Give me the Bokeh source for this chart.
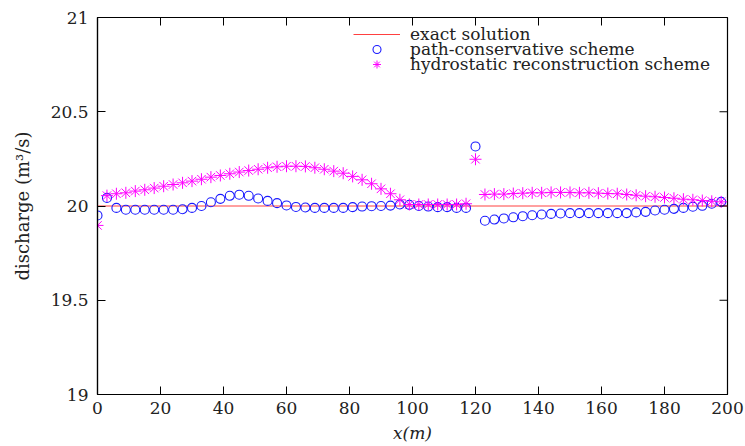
import math
from bokeh.plotting import figure
from bokeh.models import Legend, LegendItem, FixedTicker, Range1d
from bokeh.embed import file_html
from bokeh.resources import INLINE

x_pts = [0, 3, 6, 9, 12, 15, 18, 21, 24, 27, 30, 33, 36, 39, 42, 45, 48, 51, 54, 57,
         60, 63, 66, 69, 72, 75, 78, 81, 84, 87, 90, 93, 96, 99, 102, 105, 108, 111, 114, 117,
         120, 123, 126, 129, 132, 135, 138, 141, 144, 147, 150, 153, 156, 159, 162, 165, 168, 171, 174, 177,
         180, 183, 186, 189, 192, 195, 198]

path_conservative = [19.95, 20.043, 19.99, 19.98, 19.98, 19.98, 19.98, 19.98, 19.98, 19.983,
                     19.99, 20.0, 20.02, 20.038, 20.054, 20.06, 20.054, 20.04, 20.027, 20.015,
                     20.003, 19.995, 19.992, 19.99, 19.99, 19.99, 19.99, 19.994, 19.997, 19.999,
                     20.0, 20.002, 20.008, 20.006, 20.0, 19.997, 19.994, 19.994, 19.99, 19.99,
                     20.316, 19.922, 19.928, 19.934, 19.94, 19.946, 19.951, 19.955, 19.958, 19.96,
                     19.962, 19.962, 19.962, 19.962, 19.962, 19.962, 19.962, 19.966, 19.969, 19.976,
                     19.98, 19.985, 19.99, 19.996, 20.001, 20.012, 20.022]

hydrostatic = [19.897, 20.055, 20.065, 20.07, 20.079, 20.086, 20.095, 20.105, 20.114, 20.123,
               20.132, 20.142, 20.153, 20.162, 20.171, 20.18, 20.188, 20.195, 20.203, 20.208,
               20.211, 20.211, 20.21, 20.203, 20.195, 20.185, 20.174, 20.157, 20.139, 20.118,
               20.091, 20.065, 20.033, 20.008, 20.008, 20.008, 20.008, 20.008, 20.008, 20.012,
               20.248, 20.061, 20.063, 20.063, 20.066, 20.068, 20.07, 20.07, 20.072, 20.072,
               20.072, 20.07, 20.07, 20.068, 20.066, 20.065, 20.061, 20.057, 20.052, 20.049,
               20.045, 20.041, 20.036, 20.033, 20.029, 20.025, 20.022]

exact_x = [0, 200]
exact_y = [20, 20]

x_ticks = [0, 20, 40, 60, 80, 100, 120, 140, 160, 180, 200]
y_ticks = [19, 19.5, 20, 20.5, 21]
x_min, x_max = 0, 200
y_min, y_max = 19, 21

FONT = "DejaVu Serif"
TXT = "#222222"
TICK_LEN = 8

p = figure(width=745, height=446, output_backend="svg", toolbar_location=None,
           x_range=Range1d(x_min, x_max), y_range=Range1d(y_min, y_max),
           min_border_left=97, min_border_right=18, min_border_top=17, min_border_bottom=52)
p.grid.visible = False
p.outline_line_color = "black"
p.outline_line_width = 1.2
p.background_fill_color = "white"
p.border_fill_color = "white"

r_exact = p.line(exact_x, exact_y, line_color="#ff4040", line_width=1)
r_path = p.scatter(x_pts, path_conservative, marker="circle", size=9, fill_color=None,
                   line_color="#1a1aff", line_width=1.1)
r_hydro = p.scatter(x_pts, hydrostatic, marker="asterisk", size=12,
                    line_color="#ff00ff", line_width=1)

# mirrored inward ticks on top and right edges
p.ray(x=x_ticks, y=[y_max] * len(x_ticks), length=TICK_LEN, length_units="screen",
      angle=-math.pi / 2, line_color="black", line_width=1)
p.ray(x=[x_max] * len(y_ticks), y=y_ticks, length=TICK_LEN, length_units="screen",
      angle=math.pi, line_color="black", line_width=1)

for ax in (p.xaxis[0], p.yaxis[0]):
    ax.major_tick_in = TICK_LEN
    ax.major_tick_out = 0
    ax.minor_tick_line_color = None
    ax.axis_line_color = "black"
    ax.axis_line_width = 1.2
    ax.major_tick_line_color = "black"
    ax.major_tick_line_width = 1
    ax.major_label_text_font = FONT
    ax.major_label_text_font_size = "17px"
    ax.major_label_text_color = TXT
    ax.axis_label_text_font = FONT
    ax.axis_label_text_font_size = "17px"
    ax.axis_label_text_color = TXT

p.xaxis.ticker = FixedTicker(ticks=x_ticks)
p.yaxis.ticker = FixedTicker(ticks=y_ticks)
p.xaxis.major_label_standoff = 7
p.yaxis.major_label_standoff = 9

p.xaxis.axis_label = "x(m)"
p.xaxis.axis_label_text_font_style = "italic"
p.xaxis.axis_label_standoff = 6

p.yaxis.axis_label = "discharge (m³/s)"
p.yaxis.axis_label_text_font_style = "normal"
p.yaxis.axis_label_text_font_size = "18px"
p.yaxis.axis_label_standoff = 15

entries = [("exact solution", r_exact, 350),
           ("path-conservative scheme", r_path, 335),
           ("hydrostatic reconstruction scheme", r_hydro, 320)]
for label, rend, vy in entries:
    lg = Legend(items=[LegendItem(label=label, renderers=[rend])], location=(256, vy))
    lg.background_fill_alpha = 0
    lg.border_line_alpha = 0
    lg.padding = 0
    lg.margin = 0
    lg.spacing = 0
    lg.glyph_width = 47
    lg.glyph_height = 20
    lg.label_height = 20
    lg.label_standoff = 10
    lg.label_text_font = FONT
    lg.label_text_font_size = "17px"
    lg.label_text_color = TXT
    p.add_layout(lg, "center")

open("out.html", "w").write(file_html(p, INLINE))
